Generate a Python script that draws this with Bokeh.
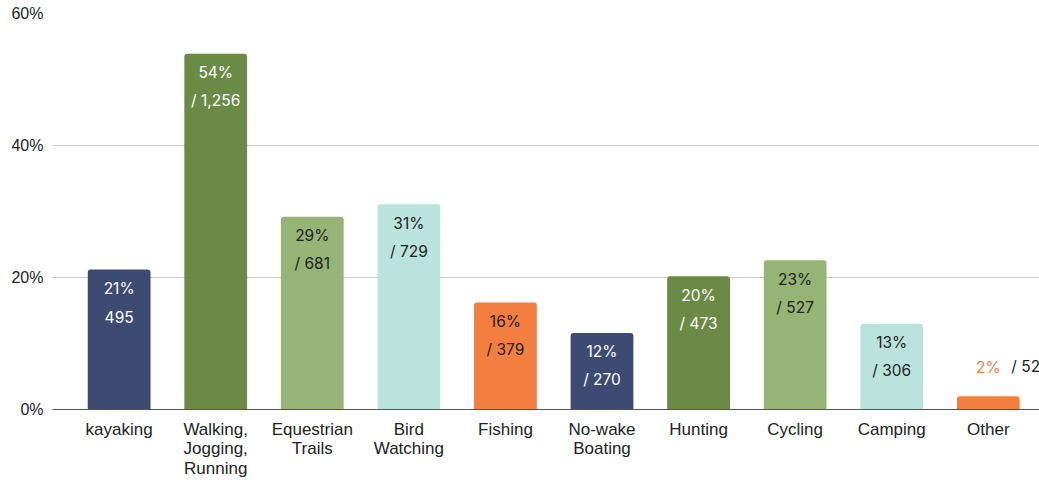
from bokeh.plotting import figure
from bokeh.models import ColumnDataSource, Range1d, FixedTicker
from bokeh.core.properties import value
from bokeh.embed import file_html
from bokeh.resources import INLINE

categories = ["kayaking", "Walking,\nJogging,\nRunning", "Equestrian\nTrails", "Bird\nWatching",
              "Fishing", "No-wake\nBoating", "Hunting", "Cycling", "Camping", "Other"]
percents = [21.2, 53.9, 29.2, 31.1, 16.2, 11.6, 20.2, 22.6, 13.0, 2.0]
counts = [495, 1256, 681, 729, 379, 270, 473, 527, 306, 52]
bar_colors = ["#3d4a72", "#6a8a46", "#95b475", "#bae3dc", "#f27f3f",
              "#3d4a72", "#6a8a46", "#95b475", "#bae3dc", "#f27f3f"]
text_colors = ["#ffffff", "#ffffff", "#222222", "#222222", "#222222",
               "#ffffff", "#ffffff", "#222222", "#222222", "#222222"]
y_ticks = [0, 20, 40, 60]

xs = list(range(len(categories)))
pct_labels = [f"{round(v)}%" for v in percents]
cnt_labels = [("" if i == 0 else "/ ") + f"{c:,}" for i, c in enumerate(counts)]

inside = [v >= 5 for v in percents]

p = figure(width=1039, height=480, output_backend="svg", toolbar_location=None,
           x_range=Range1d(-0.69, 9.53), y_range=Range1d(0, 60),
           min_border_left=52, min_border_right=0, min_border_top=13, min_border_bottom=0)
p.frame_width = 987
p.frame_height = 396
p.outline_line_color = None
p.background_fill_color = "white"
p.border_fill_color = "white"

src = ColumnDataSource(dict(x=xs, top=percents, color=bar_colors))
p.vbar(x="x", top="top", bottom=0, width=0.65, fill_color="color", line_color=None,
       source=src, border_radius=(3, 3, 0, 0))

# labels inside bars
ins = ColumnDataSource(dict(
    x=[x for x, k in zip(xs, inside) if k],
    y=[v for v, k in zip(percents, inside) if k],
    pct=[t for t, k in zip(pct_labels, inside) if k],
    cnt=[t for t, k in zip(cnt_labels, inside) if k],
    tc=[t for t, k in zip(text_colors, inside) if k],
))
p.text(x="x", y="y", text="pct", source=ins, text_color="tc", text_align="center",
       text_baseline="middle", y_offset=19, text_font=value("Inter"), text_font_size="15.5px")
p.text(x="x", y="y", text="cnt", source=ins, text_color="tc", text_align="center",
       text_baseline="middle", y_offset=47, text_font=value("Inter"), text_font_size="15.5px")

# labels above short bars
out = ColumnDataSource(dict(
    x=[x for x, k in zip(xs, inside) if not k],
    y=[v for v, k in zip(percents, inside) if not k],
    pct=[t for t, k in zip(pct_labels, inside) if not k],
    cnt=[t for t, k in zip(cnt_labels, inside) if not k],
    pc=[c for c, k in zip(bar_colors, inside) if not k],
))
p.text(x="x", y="y", text="pct", source=out, text_color="pc", text_align="center",
       text_baseline="middle", y_offset=-29, text_font=value("Inter"), text_font_size="15.5px")
p.text(x="x", y="y", text="cnt", source=out, text_color="#222222", text_align="left",
       text_baseline="middle", x_offset=23, y_offset=-30, text_font=value("Inter"), text_font_size="15.5px")

p.xgrid.grid_line_color = None
p.ygrid.grid_line_color = "#cccccc"
p.ygrid.ticker = FixedTicker(ticks=y_ticks)

p.yaxis.ticker = FixedTicker(ticks=y_ticks)
p.yaxis.major_label_overrides = {t: f"{t}%" for t in y_ticks}
p.yaxis.axis_line_color = None
p.yaxis.major_tick_line_color = None
p.yaxis.minor_tick_line_color = None
p.yaxis.major_label_text_font = "Liberation Sans"
p.yaxis.major_label_text_font_size = "16px"
p.yaxis.major_label_text_color = "#222222"
p.yaxis.major_label_standoff = 3

p.xaxis.ticker = FixedTicker(ticks=xs)
p.xaxis.major_label_overrides = {i: c for i, c in enumerate(categories)}
p.xaxis.axis_line_color = "#555555"
p.xaxis.axis_line_width = 1
p.xaxis.major_tick_line_color = None
p.xaxis.minor_tick_line_color = None
p.xaxis.major_label_text_font = "Liberation Sans"
p.xaxis.major_label_text_font_size = "17px"
p.xaxis.major_label_text_color = "#222222"
p.xaxis.major_label_text_line_height = 1.05
p.xaxis.major_label_standoff = 4

open("out.html", "w").write(file_html(p, INLINE))
